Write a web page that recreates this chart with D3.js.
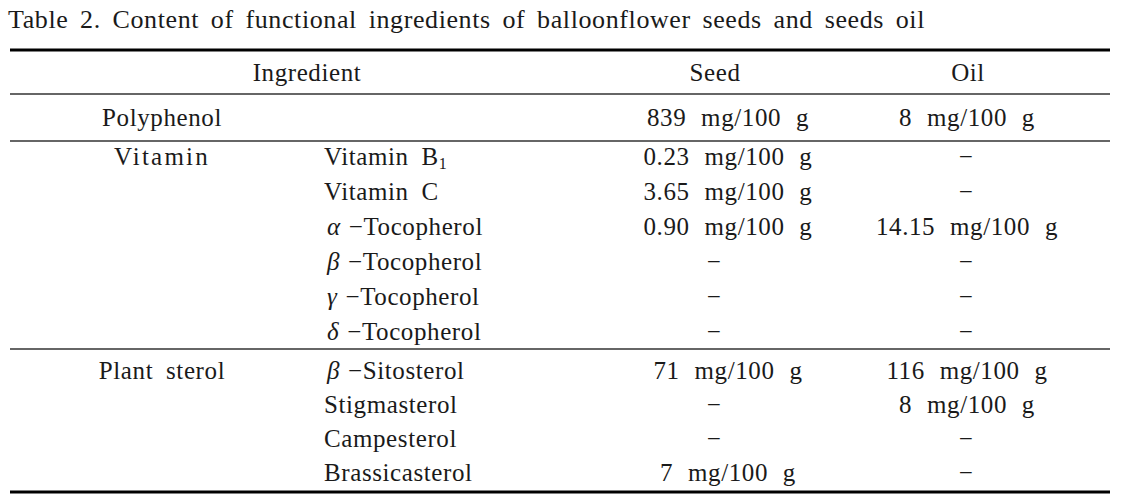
<!DOCTYPE html>
<html>
<head>
<meta charset="utf-8">
<script src="https://cdn.jsdelivr.net/npm/d3@7.9.0/dist/d3.min.js"></script>
<style>
  body { margin: 0; background: #fff; }
  svg text { font-family: "Liberation Serif", "DejaVu Serif", serif; fill: #1a1a1a; letter-spacing: 0.6px; }
</style>
</head>
<body>
<svg width="1130" height="499"></svg>
<script>
// table content
const title = 'Table 2. Content of functional ingredients of balloonflower seeds and seeds oil';
const headers = ['Ingredient', 'Seed', 'Oil'];
const groups = ['Polyphenol', 'Vitamin', 'Plant sterol'];
const groupSizes = [1, 6, 4];
const greek = ['', '', '', 'α', 'β', 'γ', 'δ', 'β', '', '', ''];
const items = ['', 'Vitamin B', 'Vitamin C', '-Tocopherol', '-Tocopherol', '-Tocopherol', '-Tocopherol',
               '-Sitosterol', 'Stigmasterol', 'Campesterol', 'Brassicasterol'];
const seedValues = ['839 mg/100 g', '0.23 mg/100 g', '3.65 mg/100 g', '0.90 mg/100 g', '-', '-', '-',
                    '71 mg/100 g', '-', '-', '7 mg/100 g'];
const oilValues = ['8 mg/100 g', '-', '-', '14.15 mg/100 g', '-', '-', '-',
                   '116 mg/100 g', '8 mg/100 g', '-', '-'];

const svg = d3.select('svg');
const left = 10, right = 1110;
const fs = 25;

// column positions
const colX = { group: 162, item: 324, seed: 728, oil: 967 };
const headX = [307, 715, 968];
const dashX = { seed: 714, oil: 966 };

// rows: line index -> y, with a gap between blocks
const blockStart = [117, 156, 370];
const blockStep = [35, 35, 34];
const rows = [];
let k = 0;
groupSizes.forEach((n, g) => {
  const y = d3.scaleLinear().domain([0, 1]).range([blockStart[g], blockStart[g] + blockStep[g]]);
  for (let i = 0; i < n; i++) rows.push({ idx: k++, group: g, first: i === 0, y: y(i) });
});

// title, stretched to the table's width by its word spacing
const titleText = svg.append('text')
  .attr('x', 8).attr('y', 28)
  .attr('font-size', 26)
  .text(title);
const words = title.split(' ').length - 1;
const extra = (917 - titleText.node().getComputedTextLength()) / words;
titleText.style('word-spacing', extra + 'px');

// rules
const rules = [
  { y: 50, w: 3.2, c: '#000' },
  { y: 94, w: 1.4, c: '#333' },
  { y: 141, w: 1.4, c: '#333' },
  { y: 349, w: 1.4, c: '#333' },
  { y: 492, w: 3.2, c: '#000' }
];
svg.selectAll('line.rule').data(rules).join('line')
  .attr('class', 'rule')
  .attr('x1', left).attr('x2', right)
  .attr('y1', d => d.y).attr('y2', d => d.y)
  .attr('stroke', d => d.c).attr('stroke-width', d => d.w);

// header
svg.selectAll('text.head').data(headers).join('text')
  .attr('class', 'head')
  .attr('x', (d, i) => headX[i]).attr('y', 72)
  .attr('dy', '0.35em')
  .attr('text-anchor', 'middle')
  .attr('font-size', fs)
  .text(d => d);

// group labels
svg.selectAll('text.group').data(rows.filter(r => r.first)).join('text')
  .attr('class', 'group')
  .attr('x', colX.group).attr('y', d => d.y)
  .attr('dy', '0.35em')
  .attr('text-anchor', 'middle')
  .attr('font-size', fs)
  .style('word-spacing', '6px')
  .style('letter-spacing', d => groups[d.group] === 'Vitamin' ? '2.2px' : null)
  .text(d => groups[d.group]);

// item labels
const itemText = svg.selectAll('text.item').data(rows.filter(r => items[r.idx])).join('text')
  .attr('class', 'item')
  .attr('x', colX.item).attr('y', d => d.y)
  .attr('dy', '0.35em')
  .attr('font-size', fs)
  .style('word-spacing', '6px');
itemText.each(function (d) {
  const t = d3.select(this);
  if (greek[d.idx]) {
    t.append('tspan').attr('dx', 3).attr('font-style', 'italic').text(greek[d.idx]);
    t.append('tspan').attr('dx', 8).text('−' + items[d.idx].slice(1));
  } else {
    t.append('tspan').text(items[d.idx]);
    if (items[d.idx] === 'Vitamin B') {
      t.append('tspan').attr('font-size', 16).attr('dy', 4).text('1');
    }
  }
});

// values
function drawValues(cls, values, x, xDash) {
  svg.selectAll('text.' + cls).data(rows).join('text')
    .attr('class', cls)
    .attr('x', d => values[d.idx] === '-' ? xDash : x)
    .attr('y', d => d.y)
    .attr('dy', '0.35em')
    .attr('text-anchor', 'middle')
    .attr('font-size', fs)
    .style('word-spacing', '8px')
    .text(d => values[d.idx] === '-' ? '−' : values[d.idx]);
}
drawValues('seed', seedValues, colX.seed, dashX.seed);
drawValues('oil', oilValues, colX.oil, dashX.oil);
</script>
</body>
</html>
